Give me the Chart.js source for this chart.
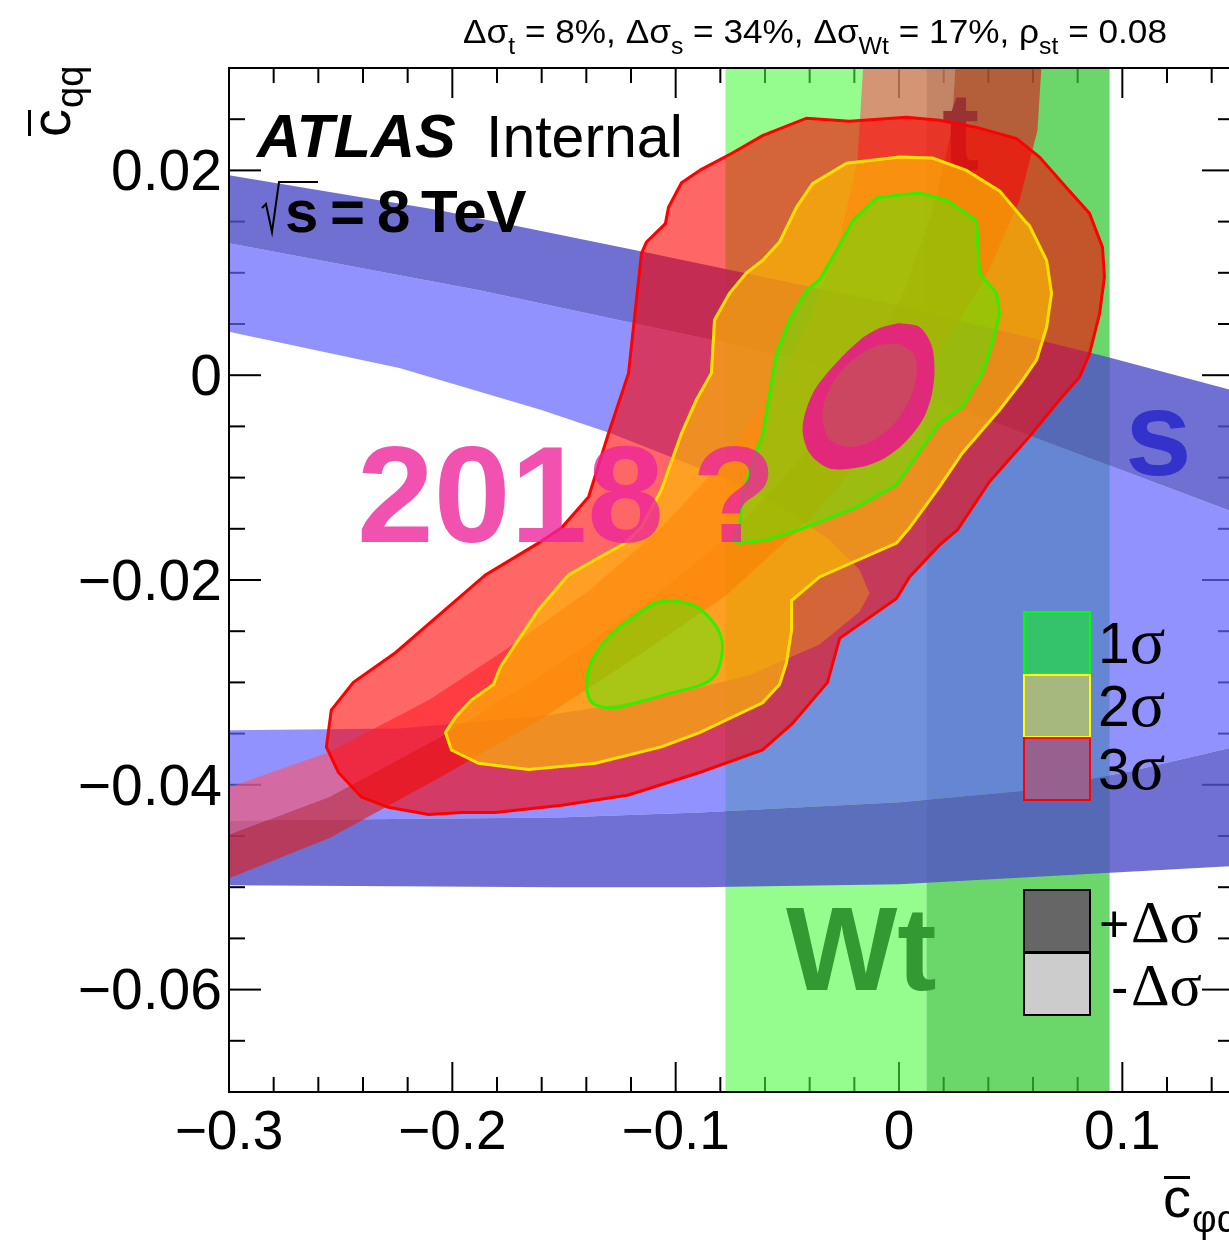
<!DOCTYPE html>
<html>
<head>
<meta charset="utf-8">
<script src="https://cdn.jsdelivr.net/npm/chart.js@4.4.1/dist/chart.umd.min.js"></script>
<style>
  html, body { margin: 0; padding: 0; background: #fff; overflow: hidden; }
  #wrap { width: 1240px; height: 1241px; }
</style>
</head>
<body>
<div id="wrap"><canvas id="chart" width="1240" height="1241"></canvas></div>
<script>
// axis ticks
const xTicks = [-0.3, -0.2, -0.1, 0, 0.1];
const yTicks = [-0.06, -0.04, -0.02, 0, 0.02];

// Wt band (c_phiq limits: -dsigma part, +dsigma part)
const wtLight = [-0.0777, 0.0123];
const wtDark = [0.0123, 0.0943];

// s-channel ring edges
const sOuterTop = [[-0.31, 0.0199], [-0.2058, 0.0161], [-0.1135, 0.0120], [0.0002, 0.0068], [0.0929, 0.0018], [0.16, -0.0021]];
const sMidTop = [[-0.31, 0.0133], [-0.1879, 0.0083], [-0.0764, 0.0031], [0.0002, -0.0010], [0.0598, -0.0060], [0.16, -0.0142]];
const sInnerTop = [[-0.31, 0.0047], [-0.2237, 0.0007], [-0.1601, -0.0034], [-0.1288, -0.0057], [-0.0764, -0.0102], [-0.0535, -0.0127], [-0.0311, -0.0161], [-0.0177, -0.0190], [-0.0132, -0.0213]];
const sInnerBot = [[-0.31, -0.0347], [-0.2237, -0.0345], [-0.1610, -0.0333], [-0.1117, -0.0317], [-0.0670, -0.0293], [-0.0356, -0.0263], [-0.0177, -0.0231], [-0.0132, -0.0213]];
const sMidBot = [[-0.31, -0.0435], [-0.1525, -0.0432], [-0.0893, -0.0427], [0.0002, -0.0417], [0.0598, -0.0405], [0.1032, -0.0387], [0.16, -0.0358]];
const sOuterBot = [[-0.31, -0.0498], [-0.1525, -0.0500], [-0.0893, -0.0500], [0.0002, -0.0497], [0.0598, -0.0490], [0.16, -0.0478]];

// t-channel band edges
const tEdgeU = [[-0.31, -0.0410], [-0.2550, -0.0368], [-0.2103, -0.0317], [-0.1762, -0.0268], [-0.1386, -0.0210], [-0.1073, -0.0151], [-0.0804, -0.0088], [-0.0580, -0.0020], [-0.0401, 0.0054], [-0.0266, 0.0132], [-0.0186, 0.0210], [-0.0155, 0.0320]];
const tEdgeM = [[-0.31, -0.0457], [-0.2550, -0.0412], [-0.2058, -0.0354], [-0.1610, -0.0294], [-0.1162, -0.0227], [-0.0759, -0.0156], [-0.0446, -0.0083], [-0.0177, 0.0000], [0.0025, 0.0083], [0.0159, 0.0166], [0.0235, 0.0239], [0.0258, 0.0320]];
const tEdgeL = [[-0.31, -0.0500], [-0.2550, -0.0452], [-0.2058, -0.0393], [-0.1610, -0.0337], [-0.1162, -0.0273], [-0.0773, -0.0215], [-0.0401, -0.0141], [-0.0087, -0.0063], [0.0159, 0.0015], [0.0383, 0.0093], [0.0540, 0.0171], [0.0620, 0.0239], [0.0643, 0.0320]];

// combined fit contours
const sigma3 = [[-0.0893, 0.0200], [-0.0746, 0.0217], [-0.0611, 0.0234], [-0.0414, 0.0251], [-0.0222, 0.0248], [0.0034, 0.0252], [0.0181, 0.0249], [0.0347, 0.0242], [0.0526, 0.0231], [0.0629, 0.0213], [0.0750, 0.0183], [0.0853, 0.0158], [0.0911, 0.0125], [0.0920, 0.0096], [0.0898, 0.0060], [0.0853, 0.0021], [0.0808, -0.0002], [0.0719, -0.0024], [0.0584, -0.0060], [0.0405, -0.0104], [0.0262, -0.0151], [0.0181, -0.0166], [0.0047, -0.0197], [-0.0011, -0.0218], [-0.0266, -0.0257], [-0.0320, -0.0300], [-0.0477, -0.0340], [-0.0611, -0.0366], [-0.0893, -0.0388], [-0.1211, -0.0410], [-0.1511, -0.0420], [-0.1807, -0.0427], [-0.1959, -0.0427], [-0.2107, -0.0429], [-0.2286, -0.0422], [-0.2407, -0.0412], [-0.2510, -0.0388], [-0.2564, -0.0363], [-0.2542, -0.0327], [-0.2443, -0.0300], [-0.2255, -0.0271], [-0.1852, -0.0195], [-0.1615, -0.0164], [-0.1511, -0.0149], [-0.1390, -0.0119], [-0.1301, -0.0057], [-0.1211, 0.0002], [-0.1189, 0.0047], [-0.1153, 0.0119], [-0.1131, 0.0130], [-0.1046, 0.0148], [-0.1032, 0.0164], [-0.0974, 0.0188]];
const sigma2 = [[-0.0235, 0.0207], [0.0002, 0.0213], [0.0150, 0.0212], [0.0302, 0.0200], [0.0450, 0.0180], [0.0562, 0.0151], [0.0584, 0.0146], [0.0661, 0.0112], [0.0683, 0.0080], [0.0661, 0.0047], [0.0616, 0.0015], [0.0553, -0.0005], [0.0450, -0.0034], [0.0284, -0.0076], [0.0181, -0.0109], [0.0047, -0.0149], [-0.0011, -0.0164], [-0.0356, -0.0197], [-0.0481, -0.0220], [-0.0481, -0.0249], [-0.0504, -0.0281], [-0.0535, -0.0302], [-0.0611, -0.0320], [-0.0893, -0.0349], [-0.1064, -0.0363], [-0.1359, -0.0379], [-0.1659, -0.0385], [-0.1883, -0.0379], [-0.2004, -0.0366], [-0.2031, -0.0349], [-0.1986, -0.0334], [-0.1914, -0.0317], [-0.1816, -0.0302], [-0.1785, -0.0285], [-0.1614, -0.0229], [-0.1480, -0.0195], [-0.1359, -0.0180], [-0.1225, -0.0164], [-0.1153, -0.0148], [-0.1064, -0.0112], [-0.0974, -0.0057], [-0.0907, -0.0024], [-0.0840, 0.0002], [-0.0826, 0.0054], [-0.0759, 0.0080], [-0.0683, 0.0100], [-0.0611, 0.0112], [-0.0535, 0.0130], [-0.0459, 0.0164], [-0.0387, 0.0187]];
const sigma1 = [[-0.0101, 0.0173], [0.0002, 0.0176], [0.0092, 0.0178], [0.0213, 0.0171], [0.0347, 0.0151], [0.0360, 0.0100], [0.0374, 0.0096], [0.0437, 0.0080], [0.0450, 0.0060], [0.0419, 0.0031], [0.0374, 0.0002], [0.0284, -0.0031], [0.0181, -0.0047], [-0.0011, -0.0107], [-0.0190, -0.0129], [-0.0446, -0.0151], [-0.0593, -0.0161], [-0.0714, -0.0164], [-0.0750, -0.0161], [-0.0714, -0.0148], [-0.0701, -0.0119], [-0.0656, -0.0083], [-0.0611, -0.0059], [-0.0567, -0.0002], [-0.0549, 0.0021], [-0.0490, 0.0054], [-0.0414, 0.0083], [-0.0356, 0.0093], [-0.0298, 0.0115], [-0.0253, 0.0132], [-0.0208, 0.0151]];
const sigma1b = [[-0.1014, -0.0220], [-0.0907, -0.0226], [-0.0817, -0.0246], [-0.0790, -0.0265], [-0.0817, -0.0291], [-0.0880, -0.0302], [-0.1014, -0.0310], [-0.1162, -0.0319], [-0.1283, -0.0325], [-0.1373, -0.0320], [-0.1399, -0.0304], [-0.1373, -0.0278], [-0.1283, -0.0252], [-0.1162, -0.0232], [-0.1086, -0.0222]];

// "2018 ?" projection ellipse
const ringOuter = [[0.0002, 0.0051], [0.0092, 0.0047], [0.0146, 0.0029], [0.0159, 0.0005], [0.0146, -0.0020], [0.0105, -0.0044], [0.0025, -0.0066], [-0.0065, -0.0081], [-0.0177, -0.0090], [-0.0311, -0.0091], [-0.0401, -0.0076], [-0.0432, -0.0051], [-0.0387, -0.0018], [-0.0298, 0.0008], [-0.0177, 0.0034], [-0.0087, 0.0046]];
const ringInner = [[0.0002, 0.0031], [0.0069, 0.0020], [0.0078, 0.0000], [0.0047, -0.0024], [-0.0020, -0.0047], [-0.0110, -0.0063], [-0.0208, -0.0070], [-0.0311, -0.0063], [-0.0343, -0.0037], [-0.0298, -0.0008], [-0.0208, 0.0015], [-0.0096, 0.0029]];

// legend entries
const sigmaLabels = ['1', '2', '3'];
const sigmaFills = ['#34c36a', '#a7b87e', '#96608f'];
const sigmaLines = ['#00ff00', '#ffff00', '#ff0000'];
const deltaLabels = ['+', '-'];
const deltaFills = ['#666666', '#cccccc'];

const SANS = '"Liberation Sans", Arial, Helvetica, sans-serif';
const SERIF = '"Liberation Serif", "Times New Roman", serif';

const pts = arr => arr.map(([x, y]) => ({ x, y }));
const closed = arr => pts([...arr, arr[0]]);
const rev = arr => [...arr].reverse();
const band = (a, b) => closed([...a, ...rev(b)]);
const rect = xr => closed([[xr[0], -0.08], [xr[1], -0.08], [xr[1], 0.04], [xr[0], 0.04]]);

function shape(data, fill, line, width, tension) {
  return {
    data: data,
    backgroundColor: fill,
    borderColor: line || 'rgba(0,0,0,0)',
    borderWidth: width || 0,
    fill: 'shape',
    pointRadius: 0,
    tension: tension || 0
  };
}

const sLightShape = closed([...sMidTop, ...rev(sMidBot), ...sInnerBot, ...rev(sInnerTop)]);

// bottom to top
const layers = [
  shape(rect(wtLight), 'rgba(70,252,60,0.58)'),
  shape(rect(wtDark), 'rgba(50,200,50,0.72)'),
  shape(sLightShape, 'rgba(100,100,255,0.7)'),
  shape(band(sOuterTop, sMidTop), 'rgba(80,80,200,0.82)'),
  shape(band(sMidBot, sOuterBot), 'rgba(80,80,200,0.82)'),
  shape(band(tEdgeU, tEdgeM), 'rgba(255,80,100,0.6)'),
  shape(band(tEdgeM, tEdgeL), 'rgba(220,30,30,0.65)'),
  shape(closed(sigma3), 'rgba(255,0,0,0.6)', '#ff0000', 3),
  shape(closed(sigma2), 'rgba(255,190,0,0.65)', '#ffe100', 3),
  shape(closed(sigma1), 'rgba(40,255,0,0.4)', '#33ee00', 3),
  shape(closed(sigma1b), 'rgba(40,255,0,0.4)', '#33ee00', 3, 0.3),
  shape(closed(ringOuter), 'rgba(235,20,140,0.88)', null, 0, 0.3),
  shape(closed(ringInner), 'rgba(190,90,80,0.6)', null, 0, 0.3)
];
layers.forEach((d, i) => { d.order = layers.length - i; });
const T_DARK_INDEX = 6;

function put(ctx, s, x, y, font, color, align) {
  ctx.font = font;
  ctx.fillStyle = color;
  ctx.textAlign = align || 'left';
  ctx.textBaseline = 'alphabetic';
  ctx.fillText(s, x, y);
}

function seg(ctx, x1, y1, x2, y2) {
  ctx.beginPath();
  ctx.moveTo(x1, y1);
  ctx.lineTo(x2, y2);
  ctx.stroke();
}

// ROOT style ticks, drawn under the translucent bands
const ticksPlugin = {
  id: 'rootTicks',
  beforeDatasetsDraw(chart) {
    const ctx = chart.ctx;
    const { left, right, top, bottom } = chart.chartArea;
    const xs = chart.scales.x, ys = chart.scales.y;
    ctx.save();
    ctx.strokeStyle = '#000';
    ctx.lineWidth = 2;
    for (let k = 0; k <= 22; k++) {
      const px = xs.getPixelForValue(-0.3 + k * 0.02);
      const len = k % 5 === 0 ? 30 : 15;
      seg(ctx, px, bottom, px, bottom - len);
      seg(ctx, px, top, px, top + len);
    }
    for (let k = 0; k <= 20; k++) {
      const py = ys.getPixelForValue(-0.07 + k * 0.005);
      const len = (k - 2) % 4 === 0 ? 32 : 16;
      seg(ctx, left, py, left + len, py);
      seg(ctx, right, py, right - len, py);
    }
    ctx.restore();
  }
};

// "t" label sits under the contours
const tLabelPlugin = {
  id: 'tLabel',
  afterDatasetDraw(chart, args) {
    if (args.index !== T_DARK_INDEX) return;
    const ctx = chart.ctx;
    ctx.save();
    put(ctx, 't', 942, 170, 'bold 112px ' + SANS, '#993333');
    ctx.restore();
  }
};

const decorPlugin = {
  id: 'decor',
  afterDatasetsDraw(chart) {
    const ctx = chart.ctx;
    const { left, right, top, bottom } = chart.chartArea;
    ctx.save();

    // labels inside the frame
    put(ctx, '2018', 357, 542, 'bold 138px ' + SANS, 'rgba(238,38,155,0.8)');
    put(ctx, '?', 692, 542, 'bold 138px ' + SANS, 'rgba(238,38,155,0.8)');
    put(ctx, 'Wt', 786, 990, 'bold 118px ' + SANS, '#339933');
    put(ctx, 's', 1125, 475, 'bold 120px ' + SANS, '#3333cc');
    put(ctx, 'ATLAS', 257, 157, 'italic bold 61px ' + SANS, '#000');
    put(ctx, 'Internal', 486, 157, '59px ' + SANS, '#000');

    // sqrt(s) = 8 TeV
    ctx.strokeStyle = '#000';
    ctx.lineWidth = 2;
    ctx.beginPath();
    ctx.moveTo(262, 208); ctx.lineTo(266, 204); ctx.lineTo(272, 232); ctx.lineTo(279, 182); ctx.lineTo(318, 182);
    ctx.stroke();
    put(ctx, 's', 285, 232, 'bold 60px ' + SANS, '#000');
    put(ctx, '=', 330, 232, 'bold 60px ' + SANS, '#000');
    put(ctx, '8', 377, 232, 'bold 60px ' + SANS, '#000');
    put(ctx, 'TeV', 421, 232, 'bold 60px ' + SANS, '#000');

    // legend
    ctx.lineWidth = 2;
    sigmaLabels.forEach((lab, i) => {
      const y0 = 612 + i * 63;
      ctx.fillStyle = sigmaFills[i];
      ctx.fillRect(1024, y0, 66, 62);
      ctx.strokeStyle = sigmaLines[i];
      ctx.strokeRect(1024, y0, 66, 62);
      const base = y0 + 51;
      put(ctx, lab, 1098, base, '57px ' + SANS, '#000');
      const w = ctx.measureText(lab).width;
      put(ctx, '\u03c3', 1098 + w, base, '66px ' + SERIF, '#000');
    });
    deltaLabels.forEach((lab, i) => {
      const y0 = 890 + i * 63;
      ctx.fillStyle = deltaFills[i];
      ctx.fillRect(1024, y0, 66, 62);
      ctx.strokeStyle = '#000';
      ctx.strokeRect(1024, y0, 66, 62);
      const base = y0 + 52;
      put(ctx, lab, i === 0 ? 1099 : 1111, base, '52px ' + SANS, '#000');
      put(ctx, '\u0394\u03c3', 1131, base, '60px ' + SERIF, '#000');
    });

    // frame
    ctx.strokeStyle = '#000';
    ctx.lineWidth = 2;
    ctx.strokeRect(left, top, right - left, bottom - top);

    // axis titles
    ctx.save();
    ctx.translate(70, 137);
    ctx.rotate(-Math.PI / 2);
    put(ctx, 'c', 0, 0, '56px ' + SANS, '#000');
    let cw = ctx.measureText('c').width;
    ctx.fillRect(1, -42, cw - 2, 3);
    put(ctx, 'qq', cw + 1, 13, '38px ' + SANS, '#000');
    ctx.restore();

    put(ctx, 'c', 1163, 1217, '56px ' + SANS, '#000');
    cw = ctx.measureText('c').width;
    ctx.fillRect(1164, 1176, cw - 2, 3);
    put(ctx, '\u03c6q', 1163 + cw + 1, 1232, '38px ' + SANS, '#000');

    // header line
    const topSegs = [['\u0394\u03c3', 0], ['t', 1], [' = 8%, \u0394\u03c3', 0], ['s', 1], [' = 34%, \u0394\u03c3', 0], ['Wt', 1], [' = 17%, \u03c1', 0], ['st', 1], [' = 0.08', 0]];
    const mainF = '34px ' + SANS, subF = '24px ' + SANS;
    let total = 0;
    topSegs.forEach(([s, sub]) => { ctx.font = sub ? subF : mainF; total += ctx.measureText(s).width; });
    ctx.save();
    ctx.translate(463, 43);
    ctx.scale(704 / total, 1);
    let cx = 0;
    topSegs.forEach(([s, sub]) => {
      put(ctx, s, cx, sub ? 11 : 0, sub ? subF : mainF, '#000');
      cx += ctx.measureText(s).width;
    });
    ctx.restore();

    ctx.restore();
  }
};

const fmt = v => (v === 0 ? '0' : (v < 0 ? '\u2212' : '') + String(Math.abs(v)));

new Chart(document.getElementById('chart').getContext('2d'), {
  type: 'line',
  data: { datasets: layers },
  options: {
    responsive: false,
    animation: false,
    devicePixelRatio: 1,
    events: [],
    layout: { padding: { top: 68, right: 6, left: 0, bottom: 0 } },
    plugins: { legend: { display: false }, tooltip: { enabled: false }, title: { display: false } },
    scales: {
      x: {
        type: 'linear', min: -0.3, max: 0.15,
        grid: { display: false, drawTicks: false },
        border: { display: false },
        afterBuildTicks: s => { s.ticks = xTicks.map(v => ({ value: v })); },
        afterFit: s => { s.height = 149; },
        ticks: { font: { family: SANS, size: 55 }, color: '#000', padding: 9, maxRotation: 0, autoSkip: false, callback: fmt }
      },
      y: {
        type: 'linear', min: -0.07, max: 0.03,
        grid: { display: false, drawTicks: false },
        border: { display: false },
        afterBuildTicks: s => { s.ticks = yTicks.map(v => ({ value: v })); },
        afterFit: s => { s.width = 229; },
        ticks: { font: { family: SANS, size: 57 }, color: '#000', padding: 7, labelOffset: 4, autoSkip: false, callback: fmt }
      }
    }
  },
  plugins: [ticksPlugin, tLabelPlugin, decorPlugin]
});
</script>
</body>
</html>
